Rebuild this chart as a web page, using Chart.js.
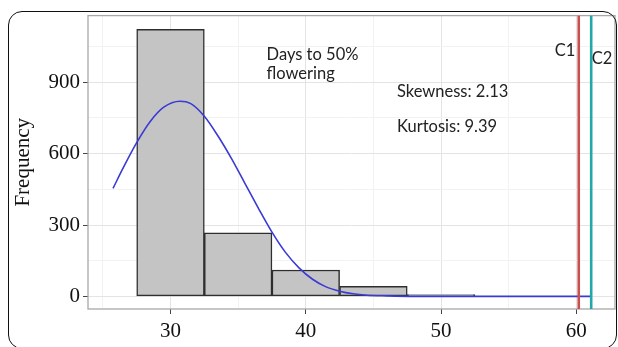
<!DOCTYPE html>
<html><head><meta charset="utf-8">
<script src="https://cdn.jsdelivr.net/npm/chart.js@4.4.1/dist/chart.umd.min.js"></script>
<style>
html,body{margin:0;padding:0;background:#fff;}
#wrap{position:relative;width:618px;height:347px;overflow:hidden;background:#fff;}
#frame{position:absolute;left:8px;top:11px;width:609px;height:338px;border:1.6px solid #111;border-radius:14px;box-sizing:border-box;pointer-events:none;}
canvas{position:absolute;left:0;top:0;}
</style></head>
<body><div id="wrap"><canvas id="c" width="618" height="347"></canvas><div id="frame"></div></div>
<script>
// Histogram bins (centres, width 5) and counts
const binCenters = [30, 35, 40, 45, 50];
const binCounts = [1122, 267, 111, 42, 8];
// Fitted density curve
const curveX = [25.75, 26.5, 27.5, 28.5, 29.5, 30.7, 31.5, 32.5, 33.5, 34.5, 35.5, 36.5, 37.5, 38.5, 39.5, 40.5, 41.5, 42.5, 43.5, 44.5, 46, 48, 52, 61.05];
const curveY = [454, 540, 646, 735, 795, 820, 810, 757, 675, 580, 475, 370, 270, 185, 120, 72, 40, 22, 11, 5, 2, 0, 0, 0];
// Reference lines
const c1Value = 60.18;
const c2Value = 61.1;
// Ticks
const xTicks = [30, 40, 50, 60];
const xMinor = [25, 35, 45, 55];
const yTicks = [0, 300, 600, 900];
const yMinor = [150, 450, 750, 1050];
const yLabel = 'Frequency';

const X_MIN = 23.9, X_MAX = 62.86, Y_MIN = -53, Y_MAX = 1180;

const notes = [
  {text: 'Days to 50%', x: 37.1, y: 992, align: 'left'},
  {text: 'flowering', x: 37.1, y: 912, align: 'left'},
  {text: 'Skewness: 2.13', x: 46.74, y: 838, align: 'left'},
  {text: 'Kurtosis: 9.39', x: 46.74, y: 692, align: 'left'},
  {text: 'C1', x: 59.92, y: 1012, align: 'right'},
  {text: 'C2', x: 61.14, y: 976, align: 'left'}
];

const serif = "'Liberation Serif', 'Times New Roman', serif";
const sans = "Lato, 'Open Sans', sans-serif";

const panelPlugin = {
  id: 'panel',
  beforeDatasetsDraw(chart) {
    const a = chart.chartArea, ctx = chart.ctx;
    ctx.save();
    ctx.strokeStyle = '#a8a8a8';
    ctx.lineWidth = 1.3;
    ctx.strokeRect(a.left, a.top, a.right - a.left, a.bottom - a.top);
    ctx.restore();
  },
  afterDatasetsDraw(chart) {
    const ctx = chart.ctx, xs = chart.scales.x, ys = chart.scales.y;
    ctx.save();
    ctx.fillStyle = '#222';
    ctx.font = '16.5px ' + sans;
    ctx.textBaseline = 'alphabetic';
    notes.forEach(n => {
      ctx.textAlign = n.align;
      ctx.fillText(n.text, xs.getPixelForValue(n.x), ys.getPixelForValue(n.y));
    });
    ctx.restore();
  }
};

const isMajorX = v => xTicks.includes(v);
const isMajorY = v => yTicks.includes(v);

new Chart(document.getElementById('c'), {
  type: 'bar',
  data: {
    datasets: [
      {
        type: 'line', label: 'C1', order: 0,
        data: [{x: c1Value, y: Y_MIN}, {x: c1Value, y: Y_MAX}],
        borderColor: '#c9504e', borderWidth: 2.6, pointRadius: 0
      },
      {
        type: 'line', label: 'C2', order: 0,
        data: [{x: c2Value, y: Y_MIN}, {x: c2Value, y: Y_MAX}],
        borderColor: '#22a8a6', borderWidth: 2.6, pointRadius: 0
      },
      {
        type: 'line', label: 'Normal', order: 1,
        data: curveX.map((x, i) => ({x, y: curveY[i]})),
        borderColor: '#3a3ad6', borderWidth: 1.6, pointRadius: 0,
        cubicInterpolationMode: 'monotone', fill: false
      },
      {
        type: 'bar', label: 'Count', order: 2,
        data: binCenters.map((x, i) => ({x, y: binCounts[i]})),
        backgroundColor: '#c4c4c4', borderColor: '#2e2e2e', borderWidth: 1.5,
        barPercentage: 1, categoryPercentage: 1, borderSkipped: false
      }
    ]
  },
  options: {
    responsive: false,
    animation: false,
    devicePixelRatio: 1,
    layout: {padding: {left: 0, right: 3, top: 14, bottom: 0}},
    plugins: {legend: {display: false}, tooltip: {enabled: false}},
    scales: {
      x: {
        type: 'linear', offset: false, min: X_MIN, max: X_MAX,
        afterBuildTicks: s => { s.ticks = xTicks.concat(xMinor).sort((a, b) => a - b).map(v => ({value: v})); },
        afterFit: s => { s.height = 38; },
        border: {display: false},
        grid: {
          offset: false, drawTicks: true, tickLength: 5,
          color: c => isMajorX(c.tick.value) ? '#e4e4e4' : '#f2f2f2',
          tickColor: c => isMajorX(c.tick.value) ? '#444' : 'rgba(0,0,0,0)'
        },
        ticks: {
          autoSkip: false, maxRotation: 0, padding: 5, color: '#111',
          font: {family: serif, size: 21},
          callback: v => isMajorX(v) ? String(v) : ''
        }
      },
      y: {
        type: 'linear', min: Y_MIN, max: Y_MAX,
        afterBuildTicks: s => { s.ticks = yTicks.concat(yMinor).sort((a, b) => a - b).map(v => ({value: v})); },
        afterFit: s => { s.width = 88; },
        border: {display: false},
        grid: {
          drawTicks: true, tickLength: 5,
          color: c => isMajorY(c.tick.value) ? '#e4e4e4' : '#f2f2f2',
          tickColor: c => isMajorY(c.tick.value) ? '#444' : 'rgba(0,0,0,0)'
        },
        ticks: {
          autoSkip: false, padding: 3, color: '#111',
          font: {family: serif, size: 21},
          callback: v => isMajorY(v) ? String(v) : ''
        },
        title: {
          display: true, text: yLabel, color: '#111',
          font: {family: serif, size: 21}, padding: {top: 11, bottom: 0}
        }
      }
    }
  },
  plugins: [panelPlugin]
});
</script>
</body></html>
